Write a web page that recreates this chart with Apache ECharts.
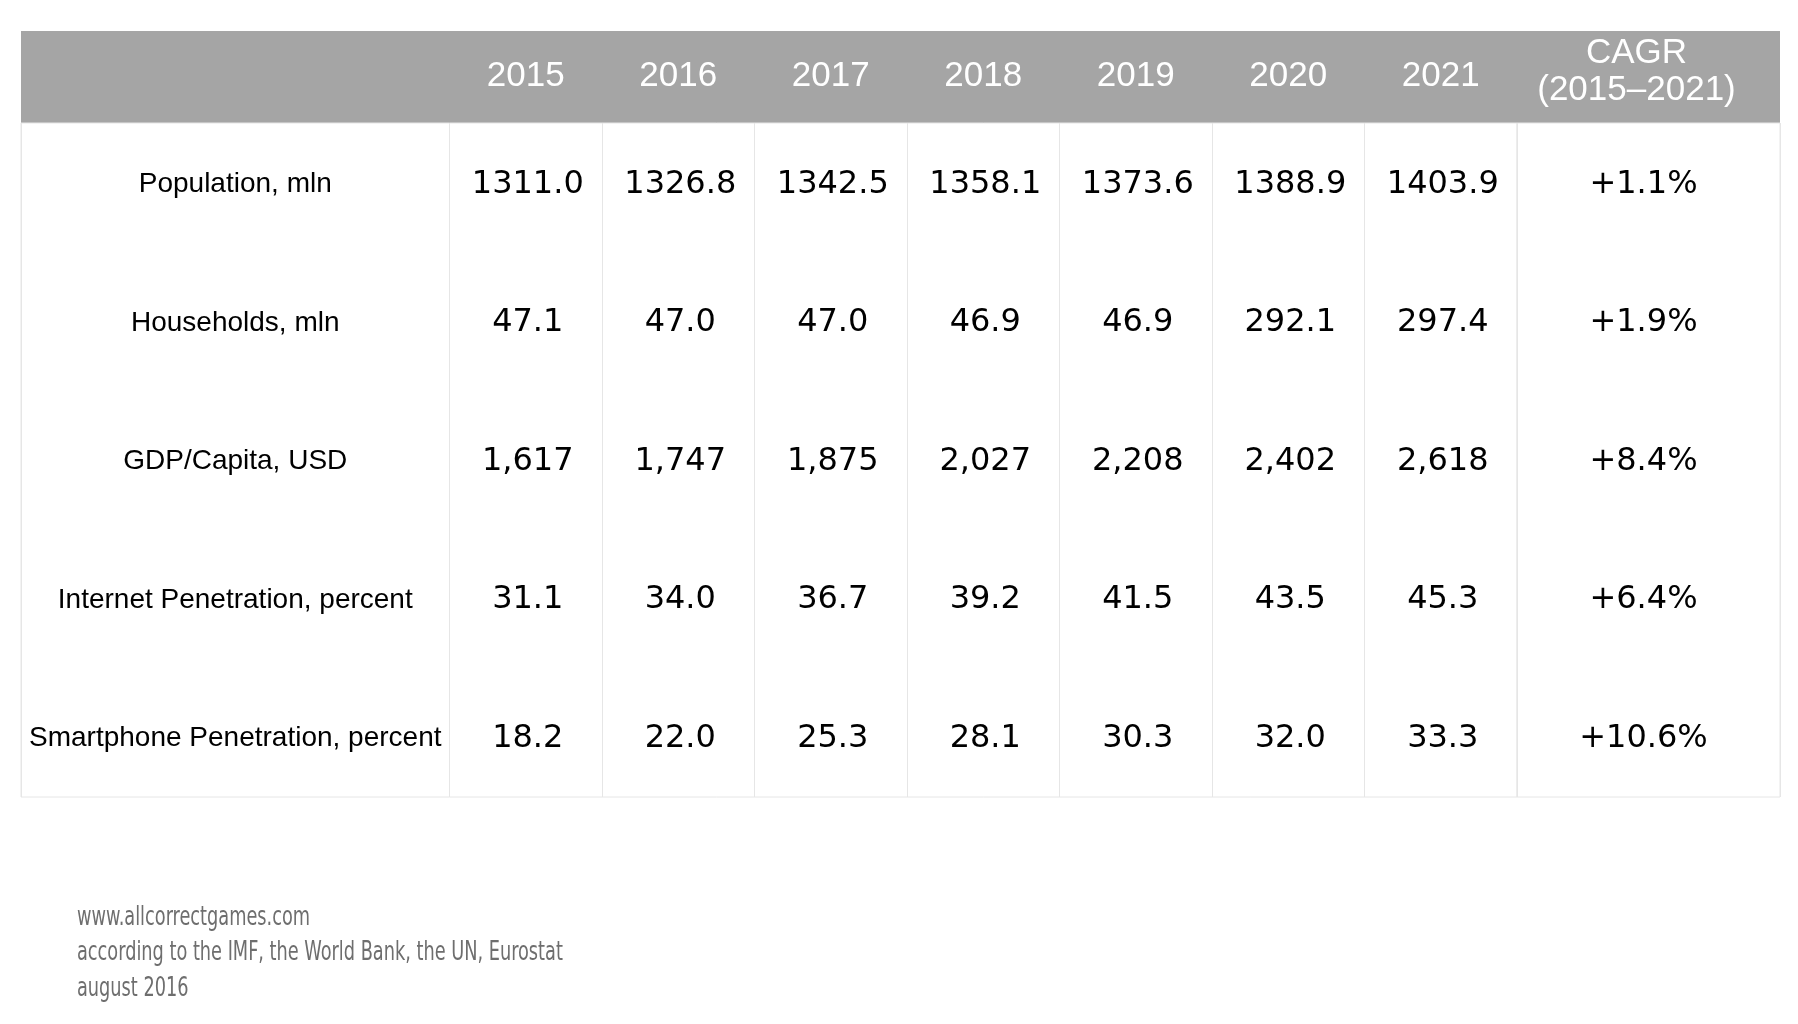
<!DOCTYPE html>
<html>
<head>
<meta charset="utf-8">
<script src="https://cdn.jsdelivr.net/npm/echarts@6/dist/echarts.min.js"></script>
<style>
html,body{margin:0;padding:0;background:#fff;}
#chart{width:1798px;height:1024px;}
</style>
</head>
<body>
<div id="chart"></div>
<script>
// ---- data ----
const years = ['2015', '2016', '2017', '2018', '2019', '2020', '2021'];
const rowLabels = ['Population, mln', 'Households, mln', 'GDP/Capita, USD', 'Internet Penetration, percent', 'Smartphone Penetration, percent'];
const population = [1311.0, 1326.8, 1342.5, 1358.1, 1373.6, 1388.9, 1403.9];
const households = [47.1, 47.0, 47.0, 46.9, 46.9, 292.1, 297.4];
const gdpPerCapita = [1617, 1747, 1875, 2027, 2208, 2402, 2618];
const internetPenetration = [31.1, 34.0, 36.7, 39.2, 41.5, 43.5, 45.3];
const smartphonePenetration = [18.2, 22.0, 25.3, 28.1, 30.3, 32.0, 33.3];
const cagr = [1.1, 1.9, 8.4, 6.4, 10.6];
const cagrHeader = 'CAGR\n(2015–2021)';
const footerLines = ['www.allcorrectgames.com', 'according to the IMF, the World Bank, the UN, Eurostat', 'august 2016'];

// ---- formatting ----
const fmtDec = v => v.toFixed(1);
const fmtInt = v => v.toLocaleString('en-US');
const rows = [
  {values: population, fmt: fmtDec},
  {values: households, fmt: fmtDec},
  {values: gdpPerCapita, fmt: fmtInt},
  {values: internetPenetration, fmt: fmtDec},
  {values: smartphonePenetration, fmt: fmtDec}
];

const labelData = rowLabels.map((l, r) => ({value: [0, r], text: l}));
const cellData = [];
rows.forEach((row, r) => row.values.forEach((v, c) => cellData.push({value: [c, r], text: row.fmt(v)})));
const cagrData = cagr.map((v, r) => ({value: [0, r], text: '+' + v.toFixed(1) + '%'}));

const LINE = '#e6e6e6';
const HEADER_BG = '#a5a5a5';
const TOP = 123, BOTTOM_EDGE = 797;
const gridBase = {top: TOP, height: BOTTOM_EDGE - TOP, show: true, borderColor: LINE, borderWidth: 1, backgroundColor: 'transparent'};

function textRenderer(data, font, dx) {
  return function (params, api) {
    const p = api.coord([api.value(0), api.value(1)]);
    return {
      type: 'text',
      x: p[0] + (dx || 0), y: p[1] + 2,
      style: {
        text: data[params.dataIndex].text, font: font, fill: '#000',
        align: 'center', verticalAlign: 'middle'
      }
    };
  };
}

const yAxisBase = {type: 'value', inverse: true, min: -0.43, max: 4.437, show: false};
const xAxisHidden = {
  type: 'category', position: 'top',
  axisLine: {show: false}, axisTick: {show: false},
  splitLine: {show: true, interval: 0, lineStyle: {color: LINE, width: 1}}
};

const option = {
  backgroundColor: '#fff',
  animation: false,
  graphic: [{
    type: 'rect', z: -1,
    shape: {x: 21, y: 31, width: 1759, height: TOP - 31},
    style: {fill: HEADER_BG}
  }, {
    type: 'text', x: 77, y: 900, scaleX: 0.73,
    style: {
      text: footerLines.join('\n'),
      font: "27px 'DejaVu Sans Condensed', sans-serif",
      fill: '#6e6e6e', lineHeight: 35.5
    }
  }],
  grid: [
    Object.assign({left: 21, width: 449.5 - 21}, gridBase),
    Object.assign({left: 449.5, width: 1517 - 449.5}, gridBase),
    Object.assign({left: 1517, width: 1780 - 1517}, gridBase)
  ],
  xAxis: [
    Object.assign({gridIndex: 0, data: [''], axisLabel: {show: false}}, xAxisHidden),
    Object.assign({gridIndex: 1, data: years,
      axisLabel: {interval: 0, color: '#fff', fontFamily: "'Liberation Sans', Arial, sans-serif", fontSize: 35, margin: 29}}, xAxisHidden),
    Object.assign({gridIndex: 2, data: [cagrHeader],
      axisLabel: {interval: 0, color: '#fff', fontFamily: "'Liberation Sans', Arial, sans-serif", fontSize: 35, lineHeight: 37, margin: 14, padding: [0, 24, 0, 0]}}, xAxisHidden)
  ],
  yAxis: [
    Object.assign({gridIndex: 0}, yAxisBase),
    Object.assign({gridIndex: 1}, yAxisBase),
    Object.assign({gridIndex: 2}, yAxisBase)
  ],
  series: [
    {type: 'custom', xAxisIndex: 0, yAxisIndex: 0, data: labelData,
     renderItem: textRenderer(labelData, "28px 'Liberation Sans', Arial, sans-serif", 0)},
    {type: 'custom', xAxisIndex: 1, yAxisIndex: 1, data: cellData,
     renderItem: textRenderer(cellData, "32px 'DejaVu Sans', Verdana, sans-serif", 2)},
    {type: 'custom', xAxisIndex: 2, yAxisIndex: 2, data: cagrData,
     renderItem: textRenderer(cagrData, "32px 'DejaVu Sans', Verdana, sans-serif", -5)}
  ]
};

const chart = echarts.init(document.getElementById('chart'), null, {renderer: 'canvas'});
chart.setOption(option);
</script>
</body>
</html>
